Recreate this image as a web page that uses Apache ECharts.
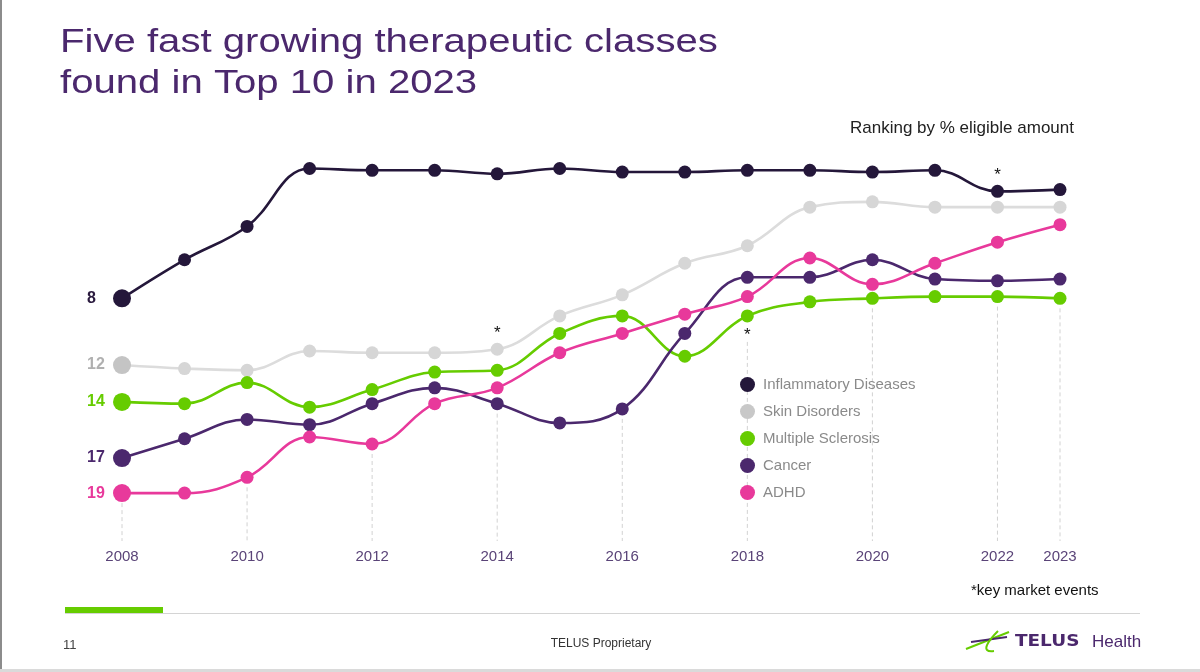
<!DOCTYPE html>
<html>
<head>
<meta charset="utf-8">
<script src="https://cdn.jsdelivr.net/npm/echarts@6/dist/echarts.min.js"></script>
<style>
html,body{margin:0;padding:0;background:#ffffff;}
#chart{width:1200px;height:672px;}
</style>
</head>
<body>
<div id="chart"></div>
<script>
// ---- data (chart position ~ ranking by % eligible amount; lower = higher rank) ----
const years = ['2008','2009','2010','2011','2012','2013','2014','2015','2016','2017','2018','2019','2020','2021','2022','2023'];
const tickLabels = ['2008','2010','2012','2014','2016','2018','2020','2022','2023'];
const seriesNames = ['Inflammatory Diseases','Skin Disorders','Multiple Sclerosis','Cancer','ADHD'];
const inflammatory      = [8.0, 5.8, 3.9, 0.6, 0.7, 0.7, 0.9, 0.6, 0.8, 0.8, 0.7, 0.7, 0.8, 0.7, 1.9, 1.8];
const skinDisorders     = [11.8, 12.0, 12.1, 11.0, 11.1, 11.1, 10.9, 9.0, 7.8, 6.0, 5.0, 2.8, 2.5, 2.8, 2.8, 2.8];
const multipleSclerosis = [13.9, 14.0, 12.8, 14.2, 13.2, 12.2, 12.1, 10.0, 9.0, 11.3, 9.0, 8.2, 8.0, 7.9, 7.9, 8.0];
const cancer            = [17.1, 16.0, 14.9, 15.2, 14.0, 13.1, 14.0, 15.1, 14.3, 10.0, 6.8, 6.8, 5.8, 6.9, 7.0, 6.9];
const adhd              = [19.1, 19.1, 18.2, 15.9, 16.3, 14.0, 13.1, 11.1, 10.0, 8.9, 7.9, 5.7, 7.2, 6.0, 4.8, 3.8];
const startLabels = ['8','12','14','17','19'];
// key market events: [series, year, label side]
const eventMarks = [
  ['Skin Disorders','2014','top'],
  ['Multiple Sclerosis','2018','bottom'],
  ['Inflammatory Diseases','2022','top']
];

// ---- styles ----
const FONT = "'Liberation Sans', Arial, Helvetica, sans-serif";
const valuesList = [inflammatory, skinDisorders, multipleSclerosis, cancer, adhd];
const lineColors = ['#24173a','#dcdcdc','#66cc00','#4b286d','#e8399b'];
const dotColors = ['#24173a','#d6d6d6','#66cc00','#4b286d','#e8399b'];
const firstDotColors = ['#24173a','#c4c4c4','#66cc00','#4b286d','#e8399b'];
const startLabelColors = ['#2a1a3e','#b0b0b0','#66cc00','#4b286d','#e8399b'];
const legendColors = ['#24173a','#c8c8c8','#66cc00','#4b286d','#e8399b'];

const lineSeries = seriesNames.map((name, i) => ({
  type: 'line',
  name: name,
  smooth: 0.4,
  symbol: 'circle',
  symbolSize: 13,
  showSymbol: true,
  z: 3 + i,
  lineStyle: { color: lineColors[i], width: 2.6 },
  itemStyle: { color: dotColors[i] },
  emphasis: { disabled: true },
  data: valuesList[i].map((v, j) => {
    const d = { value: v };
    if (j === 0) {
      d.symbolSize = 18;
      d.itemStyle = { color: firstDotColors[i] };
      d.label = {
        show: true, formatter: startLabels[i], position: [-26, 9],
        align: 'left', verticalAlign: 'middle',
        fontFamily: FONT, fontSize: 16, fontWeight: 'bold', color: startLabelColors[i]
      };
    }
    const ev = eventMarks.find(e => e[0] === name && e[1] === years[j]);
    if (ev) {
      d.label = {
        show: true, formatter: '*', position: ev[2], distance: ev[2] === 'top' ? 1 : 4,
        fontFamily: FONT, fontSize: 17, color: '#111111'
      };
    }
    return d;
  })
}));

const guideData = tickLabels.map(y => {
  const j = years.indexOf(y);
  return [j, Math.max(...valuesList.map(v => v[j]))];
});

const guideSeries = {
  type: 'custom',
  name: 'guides',
  silent: true,
  z: 1,
  data: guideData,
  renderItem: (params, api) => {
    const idx = api.value(0);
    const p = api.coord([idx, api.value(1)]);
    const cs = params.coordSys;
    const below = eventMarks.some(e => e[1] === years[idx] && e[2] === 'bottom');
    return {
      type: 'line',
      shape: { x1: p[0], y1: p[1] + (below ? 26 : 10), x2: p[0], y2: cs.y + cs.height - 3 },
      style: { stroke: '#d2d2d2', lineWidth: 1, lineDash: [4, 3] }
    };
  }
};

const chart = echarts.init(document.getElementById('chart'), null, { renderer: 'canvas' });
chart.setOption({
  animation: false,
  backgroundColor: '#ffffff',
  grid: { left: 122, right: 140, top: 158, bottom: 128 },
  xAxis: {
    type: 'category',
    data: years,
    boundaryGap: false,
    axisLine: { show: false },
    axisTick: { show: false },
    splitLine: { show: false },
    axisLabel: {
      interval: (i, v) => tickLabels.includes(v),
      color: '#5a4478', fontSize: 15, fontFamily: FONT, margin: 5
    }
  },
  yAxis: {
    type: 'value', inverse: true, min: 0, max: 22, show: false,
    splitLine: { show: false }
  },
  legend: {
    orient: 'vertical', left: 740, top: 377, padding: 0,
    itemWidth: 15, itemHeight: 15, itemGap: 12, icon: 'circle',
    selectedMode: false,
    textStyle: { color: '#8a8a8a', fontSize: 15, fontFamily: FONT, lineHeight: 15, padding: [0, 0, 0, 3] },
    data: seriesNames.map((n, i) => ({ name: n, itemStyle: { color: legendColors[i] } }))
  },
  series: [guideSeries].concat(lineSeries),
  graphic: [
    { type: 'rect', silent: true, shape: { x: 0, y: 0, width: 2, height: 672 }, style: { fill: '#8c8c8c' } },
    { type: 'rect', silent: true, shape: { x: 0, y: 669, width: 1200, height: 3 }, style: { fill: '#dadada' } },
    { type: 'text', silent: true, x: 60, y: 43, scaleX: 1.18,
      style: { text: 'Five fast growing therapeutic classes', fontFamily: FONT, fontSize: 34, fill: '#4b286d', verticalAlign: 'middle' } },
    { type: 'text', silent: true, x: 60, y: 84, scaleX: 1.18,
      style: { text: 'found in Top 10 in 2023', fontFamily: FONT, fontSize: 34, fill: '#4b286d', verticalAlign: 'middle' } },
    { type: 'text', silent: true, x: 850, y: 128,
      style: { text: 'Ranking by % eligible amount', fontFamily: FONT, fontSize: 17, fill: '#222222', verticalAlign: 'middle' } },
    { type: 'text', silent: true, x: 971, y: 591,
      style: { text: '*key market events', fontFamily: FONT, fontSize: 15, fill: '#111111', verticalAlign: 'middle' } },
    { type: 'rect', silent: true, shape: { x: 65, y: 613, width: 1075, height: 1 }, style: { fill: '#d4d4d4' } },
    { type: 'rect', silent: true, shape: { x: 65, y: 607, width: 98, height: 6 }, style: { fill: '#66cc00' } },
    { type: 'text', silent: true, x: 63, y: 645,
      style: { text: '11', fontFamily: FONT, fontSize: 13, fill: '#444444', verticalAlign: 'middle' } },
    { type: 'text', silent: true, x: 601, y: 644,
      style: { text: 'TELUS Proprietary', fontFamily: FONT, fontSize: 12, fill: '#333333', align: 'center', verticalAlign: 'middle' } },
    { type: 'line', silent: true, shape: { x1: 966, y1: 649, x2: 1009, y2: 632 }, style: { stroke: '#66cc00', lineWidth: 2 } },
    { type: 'line', silent: true, shape: { x1: 971, y1: 642, x2: 1007, y2: 637 }, style: { stroke: '#4b286d', lineWidth: 2 } },
    { type: 'bezierCurve', silent: true, shape: { x1: 998, y1: 631, cpx1: 989, cpy1: 640, cpx2: 979, cpy2: 653, x2: 994, y2: 651 }, style: { stroke: '#66cc00', lineWidth: 2, fill: null } },
    { type: 'text', silent: true, x: 1015, y: 642, scaleX: 1.15,
      style: { text: 'TELUS', fontFamily: "'DejaVu Sans', sans-serif", fontWeight: 'bold', fontSize: 16, fill: '#4b286d', verticalAlign: 'middle' } },
    { type: 'text', silent: true, x: 1092, y: 642,
      style: { text: 'Health', fontFamily: FONT, fontSize: 17, fill: '#4b286d', verticalAlign: 'middle' } }
  ]
});
</script>
</body>
</html>
